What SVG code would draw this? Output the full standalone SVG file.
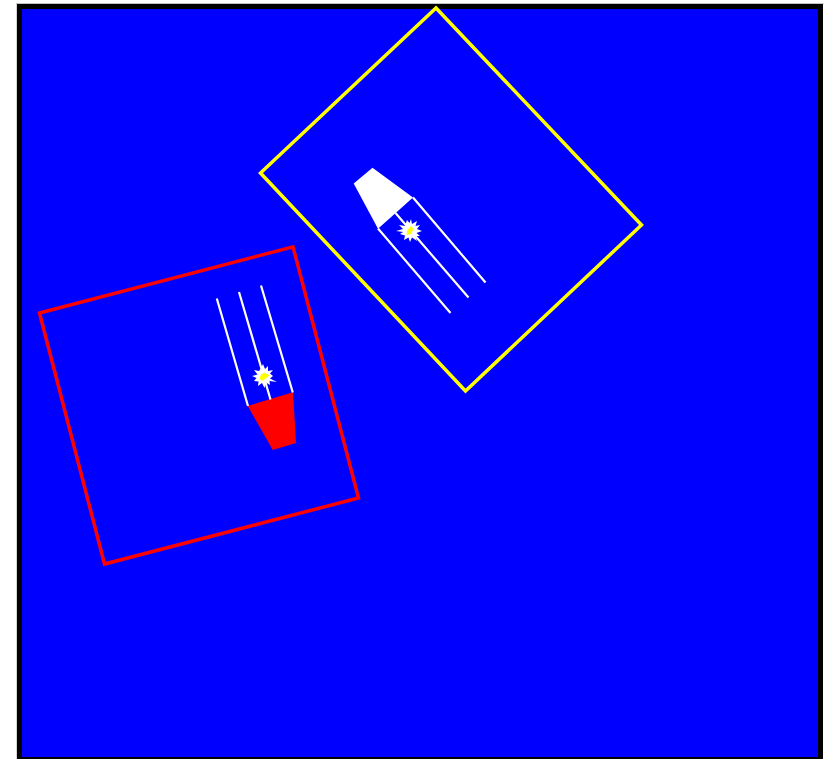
<svg xmlns="http://www.w3.org/2000/svg" width="829" height="759" viewBox="0 0 829 759">
<style>
.ray{stroke:#fff;stroke-width:2.2;fill:none}
.star{fill:#fff}
.core{fill:#ff0}
</style>
<rect width="829" height="759" fill="#fff"/>
<rect x="16.500" y="3.300" width="1" height="755.700" fill="#aaa"/>
<rect x="16.500" y="3.300" width="807" height="1" fill="#aaa"/>
<rect x="19.500" y="6.500" width="801" height="753" fill="#00f" stroke="#000" stroke-width="5"/>
<g id="frame-yellow"><polygon points="436,8 641.500,225 465.500,391 260.500,173" fill="none" stroke="#ff0" stroke-width="3.500"/></g>
<g id="frame-red"><polygon points="39.500,313 293,246.800 358.500,498 104.500,564" fill="none" stroke="#f00" stroke-width="3.500"/></g>
<g id="beam-yellow">
<polygon points="372.500,167.700 413,197.500 378,228.800 353.700,183.500" fill="#fff"/>
<path class="ray" d="M378,228.500L450.500,313M395.500,213L468.500,297.500M413,197.500L485.500,282.500"/>
<polygon class="star" points="407,220 409.500,223 411,219 412,224 417,221 415.500,226 420,225 417,229 422,231 416.500,233 420,236 415,236 417,241 412,237.500 410,242 408.500,237.500 404,240 405,235.500 400,234 403,232 396,231 403,229 399,225 405,226"/>
<polygon class="core" points="411,226 413.500,229 411,234 406.500,235 407.500,230"/>
</g>
<g id="beam-red">
<polygon points="247.700,406 293,392.300 296,443 272.800,450" fill="#f00"/>
<path class="ray" d="M216.800,298.500L248,406M239,292L270.500,399.500M261,285.500L292.800,392.500"/>
<polygon class="star" points="261,368 263,364 265,369 268,366 268,371 273,370 270,373.500 273,376 270,378.500 277,382 269.500,381 270,385 266,382.500 264.500,388 262,383 258,386 258.500,381.500 254,381 256.500,378 252,376 257.500,374.500 254,370 259,371"/>
<polygon class="core" points="264,372.500 268,374.500 269.500,375.500 265,379 262,381 259.500,378.500 261,375"/>
</g>
</svg>
